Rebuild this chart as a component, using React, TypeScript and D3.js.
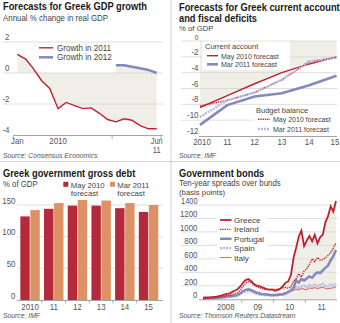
import React from 'react';
import * as d3 from 'd3';

const FONT = "'Liberation Sans', Arial, sans-serif";

const RED = '#c0202e';
const RED_THIN = '#d2464d';
const BLUE = '#8489bd';
const LAV = '#b6b9df';
const BAR_RED = '#b52a3a';
const BAR_ORANGE = '#dc9265';
const SHADE = '#efefe8';
const GRID = '#d6d6d6';
const AXIS = '#9a9a9a';
const SEP = '#c4c4c4';
const TXT = '#1a1a1a';
const SUB = '#444';
const TICK = '#555';

// ---------- Panel 1: GDP growth forecasts ----------
const gdpMonths = ['2010-01', '2010-02', '2010-03', '2010-04', '2010-05', '2010-06', '2010-07', '2010-08', '2010-09',
  '2010-10', '2010-11', '2010-12', '2011-01', '2011-02', '2011-03', '2011-04', '2011-05', '2011-06'];
const growth2011 = [1.2, 0.9, 0.3, -0.5, -1.0, -2.3, -1.9, -2.1, -2.3, -2.25, -2.6, -3.0, -3.15, -2.95, -3.05, -3.4, -3.6, -3.6];
const growth2012Months = ['2011-01', '2011-02', '2011-03', '2011-04', '2011-05', '2011-06'];
const growth2012 = [0.5, 0.5, 0.4, 0.3, 0.2, 0.0];
const gdpYTicks = [2, 0, -2, -4];
const gdpXLabels = [
  { month: '2010-01', lines: ['Jan'] },
  { month: '2010-06', lines: ['2010'] },
  { month: '2011-06', lines: ['Jun', '11'] },
];
const gdpXTicks = ['2010-01-01', '2011-01-01', '2011-07-01'];

// ---------- Panel 2: current account & budget balance ----------
const caYears = [2010, 2011, 2012, 2013, 2014, 2015];
const caYearLabels = ['2010', '11', '12', '13', '14', '15'];
const caMay2010 = [-8.4, -6.9, -5.4, -4.0, -2.9, -2.0];
const caMar2011 = [-10.6, -8.1, -7.0, -6.6, -5.6, -4.4];
const budgetMay2010 = [-8.2, -7.5, -6.5, -4.9, -2.6, -2.1];
const budgetMar2011 = [-9.6, -7.5, -6.5, -4.9, -2.6, -2.1];
const caYTicks = [0, -2, -4, -6, -8, -10, -12];

// ---------- Panel 3: gross debt ----------
const debtYears = ['2010', '11', '12', '13', '14', '15'];
const debtMay2010 = [132, 144, 149, 149, 145, 139];
const debtMar2011 = [142, 153, 158, 157, 153, 150];
const debtYTicks = [0, 50, 100, 150];

// ---------- Panel 4: bond spreads (monthly, from Apr 2007) ----------
const bondStartYear = 2007;
const bondStartMonth = 3; // April (0-based)
const greece = [25, 27, 29, 31, 35, 40, 48, 58, 70, 80, 88, 110, 130, 150, 190, 245, 285, 300, 272, 230, 208, 196, 180, 168,
  150, 145, 145, 125, 135, 155, 195, 245, 265, 360, 620, 760, 930, 1020, 790, 870, 940, 860, 960, 830, 920, 960, 1150,
  1230, 1380, 1300, 1460];
const ireland = [10, 12, 15, 18, 20, 25, 28, 35, 45, 55, 60, 70, 85, 100, 130, 190, 240, 265, 250, 215, 190, 175, 160, 150,
  145, 140, 150, 145, 150, 160, 170, 175, 165, 180, 270, 300, 380, 330, 420, 450, 520, 600, 560, 620, 580, 590, 620,
  650, 690, 760, 840];
const portugal = [12, 14, 16, 18, 20, 22, 25, 30, 35, 40, 45, 50, 55, 65, 90, 120, 140, 150, 140, 120, 100, 90, 80, 75,
  70, 65, 60, 62, 65, 70, 75, 90, 110, 130, 170, 280, 250, 300, 280, 310, 340, 320, 370, 400, 390, 430, 470,
  500, 580, 640, 730];
const spain = [8, 9, 10, 12, 14, 16, 18, 22, 28, 32, 36, 40, 45, 55, 75, 100, 115, 120, 110, 95, 80, 70, 65, 60,
  60, 58, 55, 58, 60, 65, 70, 80, 100, 120, 160, 180, 170, 190, 200, 180, 210, 190, 220, 200, 210, 230, 200,
  190, 220, 210, 230];
const italy = [15, 17, 20, 22, 25, 28, 32, 36, 40, 45, 50, 55, 60, 70, 90, 120, 135, 140, 130, 115, 100, 90, 85, 80,
  78, 75, 72, 75, 78, 80, 85, 95, 110, 120, 130, 150, 140, 160, 150, 140, 170, 160, 175, 160, 170, 180, 160,
  155, 165, 170, 185];
const bondYTicks = [0, 200, 400, 600, 800, 1000, 1200, 1400];
const bondXLabels = [
  { date: '2008-01-01', label: '2008' },
  { date: '2009-01-01', label: '09' },
  { date: '2010-01-01', label: '10' },
  { date: '2011-01-01', label: '11' },
];
const bondXTicks = ['2008-07-01', '2009-07-01', '2010-07-01'];
const bondShadeFrom = 30; // index of Oct 2009

const parseMonth = (s: string) => {
  const [y, m] = s.split('-').map(Number);
  return new Date(y, m - 1, 15);
};
const parseDay = (s: string) => {
  const [y, m, d] = s.split('-').map(Number);
  return new Date(y, m - 1, d);
};

type Pt = [number, number];

// condensed text: Arial-metric font squeezed horizontally
function T({ x, y, size, children, anchor = 'start', weight = 'normal', italic = false, fill = SUB, sq = 0.93 }:
  { x: number; y: number; size: number; children: React.ReactNode; anchor?: string; weight?: string; italic?: boolean; fill?: string; sq?: number }) {
  return (
    <text transform={`translate(${x},${y}) scale(${sq},1)`} x={0} y={0} textAnchor={anchor as any}
      fontFamily={FONT} fontSize={size} fontWeight={weight} fontStyle={italic ? 'italic' : 'normal'} fill={fill}>
      {children}
    </text>
  );
}

const Title = ({ x, y, text }: { x: number; y: number; text: string }) => (
  <T x={x} y={y} size={10.4} weight="bold" fill={TXT} sq={0.895}>{text}</T>
);
const Sub = ({ x, y, text, size = 8.8, sq = 0.9 }: { x: number; y: number; text: string; size?: number; sq?: number }) => (
  <T x={x} y={y} size={size} fill={SUB} sq={sq}>{text}</T>
);
const Source = ({ x, y, text }: { x: number; y: number; text: string }) => (
  <T x={x} y={y} size={6.8} italic fill={TICK} sq={1}>{text}</T>
);
const Tick = ({ x, y, anchor, children, size = 8.8 }: { x: number; y: number; anchor: string; children: React.ReactNode; size?: number }) => (
  <T x={x} y={y} anchor={anchor} size={size} fill={TICK} sq={0.9}>{children}</T>
);
const Leg = ({ x, y, children, size = 8.6, sq = 0.94 }: { x: number; y: number; children: React.ReactNode; size?: number; sq?: number }) => (
  <T x={x} y={y} size={size} fill={SUB} sq={sq}>{children}</T>
);

function GdpPanel() {
  const x = d3.scaleTime().domain([parseMonth('2010-01'), parseMonth('2011-06')]).range([17.3, 156.7]);
  const y = d3.scaleLinear().domain([-4, 2]).range([135, 42]);
  const d2011: [Date, number][] = gdpMonths.map((m, i) => [parseMonth(m), growth2011[i]]);
  const d2012: [Date, number][] = growth2012Months.map((m, i) => [parseMonth(m), growth2012[i]]);
  const line = d3.line<[Date, number]>().x(d => x(d[0])).y(d => y(d[1]));
  const area = d3.area<[Date, number]>().x(d => x(d[0])).y0(y(0)).y1(d => y(d[1]));
  const tickDates = gdpXTicks.map(parseDay);
  const x0 = x(tickDates[0]);
  return (
    <g>
      <Title x={3} y={10} text="Forecasts for Greek GDP growth" />
      <Sub x={3} y={21} text="Annual % change in real GDP" />
      <path d={area(d2011) || ''} fill={SHADE} />
      <path d={area(d2012) || ''} fill={SHADE} />
      {gdpYTicks.map(t => (
        <g key={t}>
          {t > -4 && <line x1={3} x2={163} y1={y(t)} y2={y(t)} stroke={GRID} strokeWidth={0.8} />}
          <Tick x={9.5} y={y(t) - 2} anchor="end">{t}</Tick>
        </g>
      ))}
      <line x1={x0} x2={163} y1={y(-4) + 0.5} y2={y(-4) + 0.5} stroke={AXIS} strokeWidth={0.9} />
      {tickDates.map((d, i) => (
        <line key={i} x1={x(d)} x2={x(d)} y1={y(-4) + 0.5} y2={y(-4) + 4} stroke={AXIS} strokeWidth={0.8} />
      ))}
      {gdpXLabels.map((l, i) => (
        <g key={i}>
          {l.lines.map((s, j) => (
            <Tick key={j} x={x(parseMonth(l.month))} y={144 + j * 8.6} anchor="middle" size={l.lines.length > 1 ? 8.2 : 8.8}>{s}</Tick>
          ))}
        </g>
      ))}
      <path d={line(d2012) || ''} fill="none" stroke={BLUE} strokeWidth={2.5} />
      <path d={line(d2011) || ''} fill="none" stroke={RED} strokeWidth={1.4} />
      <line x1={39} x2={53} y1={47.8} y2={47.8} stroke={RED} strokeWidth={1.4} />
      <Leg x={57} y={50.8}>Growth in 2011</Leg>
      <line x1={39} x2={53} y1={57.3} y2={57.3} stroke={BLUE} strokeWidth={2.5} />
      <Leg x={57} y={60.3}>Growth in 2012</Leg>
      <Source x={3} y={157.5} text="Source: Consensus Economics" />
    </g>
  );
}

function DeficitPanel() {
  const x = d3.scaleLinear().domain([2010, 2015]).range([200, 336.5]);
  const y = d3.scaleLinear().domain([-12, 0]).range([136, 41]);
  const mk = (vals: number[]): Pt[] => caYears.map((yr, i) => [yr, vals[i]]);
  const line = d3.line<Pt>().x(d => x(d[0])).y(d => y(d[1]));
  const area = d3.area<Pt>().x(d => x(d[0])).y0(y(0)).y1(d => y(d[1]));
  const lsz = 7.9;
  const lsq = 0.89;
  return (
    <g>
      <Title x={179} y={10.5} text="Forecasts for Greek current account" />
      <Title x={179} y={22.3} text="and fiscal deficits" />
      <Sub x={179} y={30.6} text="% of GDP" size={8} sq={0.97} />
      <path d={area(mk(caMay2010)) || ''} fill={SHADE} />
      {caYTicks.map(t => (
        <g key={t}>
          {t > -12 && <line x1={181} x2={337} y1={y(t)} y2={y(t)} stroke={GRID} strokeWidth={0.8} />}
          <Tick x={198.5} y={y(t) - (t === 0 ? 1.3 : 2)} anchor="end" size={t === 0 ? 8 : 8.8}>{t}</Tick>
        </g>
      ))}
      <line x1={199} x2={337} y1={y(-12) + 0.5} y2={y(-12) + 0.5} stroke={AXIS} strokeWidth={0.9} />
      {caYears.map((yr, i) => (
        <Tick key={yr} x={x(yr) + (i === 0 ? 2 : i === caYears.length - 1 ? -1.5 : 0)} y={144.5} anchor="middle">{caYearLabels[i]}</Tick>
      ))}
      <rect x={202} y={41.5} width={88} height={28.5} fill="#fff" />
      <rect x={254} y={106} width={83} height={28} fill="#fff" />
      <path d={line(mk(caMay2010)) || ''} fill="none" stroke={RED} strokeWidth={1.4} />
      <path d={line(mk(caMar2011)) || ''} fill="none" stroke={BLUE} strokeWidth={2.6} />
      <path d={line(mk(budgetMay2010)) || ''} fill="none" stroke={RED} strokeWidth={1.4} strokeDasharray="1.3 1" />
      <path d={line(mk(budgetMar2011)) || ''} fill="none" stroke={LAV} strokeWidth={2.4} strokeDasharray="2 1" />
      <Leg x={205} y={48.5} size={lsz} sq={0.95}>Current account</Leg>
      <line x1={207} x2={218} y1={55.7} y2={55.7} stroke={RED} strokeWidth={1.4} />
      <Leg x={221} y={58.6} size={lsz} sq={lsq}>May 2010 forecast</Leg>
      <line x1={207} x2={218} y1={64.3} y2={64.3} stroke={BLUE} strokeWidth={2.6} />
      <Leg x={221} y={67.2} size={lsz} sq={lsq}>Mar 2011 forecast</Leg>
      <Leg x={256} y={113} size={lsz} sq={0.95}>Budget balance</Leg>
      <line x1={258} x2={270} y1={119.3} y2={119.3} stroke={RED} strokeWidth={1.4} strokeDasharray="1.3 1" />
      <Leg x={273} y={122.2} size={lsz} sq={lsq}>May 2010 forecast</Leg>
      <line x1={258} x2={270} y1={129} y2={129} stroke={LAV} strokeWidth={2.4} strokeDasharray="2 1" />
      <Leg x={273} y={131.9} size={lsz} sq={lsq}>Mar 2011 forecast</Leg>
      <Source x={179} y={157.5} text="Source: IMF" />
    </g>
  );
}

function DebtPanel() {
  const x = d3.scaleBand<string>().domain(debtYears).range([18.2, 160.4]).paddingInner(0.18).paddingOuter(0.09);
  const inner = d3.scaleBand<string>().domain(['may', 'mar']).range([0, x.bandwidth()]).paddingInner(0.06);
  const y = d3.scaleLinear().domain([0, 150]).range([300, 205]);
  const gap = x.step() - x.bandwidth();
  return (
    <g>
      <Title x={3} y={176.5} text="Greek government gross debt" />
      <Sub x={3} y={186.5} text="% of GDP" size={8.2} sq={0.95} />
      <rect x={63.3} y={181.8} width={5} height={5} fill={BAR_RED} />
      <Leg x={70.7} y={187.5} size={7.9} sq={0.98}>May 2010</Leg>
      <Leg x={70.7} y={196} size={7.9} sq={0.98}>forecast</Leg>
      <rect x={110} y={181.8} width={5} height={5} fill={BAR_ORANGE} />
      <Leg x={117.3} y={187.5} size={7.9} sq={0.98}>Mar 2011</Leg>
      <Leg x={117.3} y={196} size={7.9} sq={0.98}>forecast</Leg>
      {debtYTicks.map(t => (
        <g key={t}>
          {t > 0 && <line x1={17} x2={163} y1={y(t)} y2={y(t)} stroke={GRID} strokeWidth={0.8} />}
          <Tick x={15.5} y={y(t) - 1.5} anchor="end">{t}</Tick>
        </g>
      ))}
      {debtYears.map((yr, i) => (
        <g key={yr}>
          <rect x={(x(yr) || 0) + (inner('may') || 0)} y={y(debtMay2010[i])} width={inner.bandwidth()} height={y(0) - y(debtMay2010[i])} fill={BAR_RED} />
          <rect x={(x(yr) || 0) + (inner('mar') || 0)} y={y(debtMar2011[i])} width={inner.bandwidth()} height={y(0) - y(debtMar2011[i])} fill={BAR_ORANGE} />
          <Tick x={(x(yr) || 0) + x.bandwidth() / 2} y={309.5} anchor="middle">{yr}</Tick>
          {i > 0 && <line x1={(x(yr) || 0) - gap / 2} x2={(x(yr) || 0) - gap / 2} y1={300} y2={303.5} stroke={AXIS} strokeWidth={0.8} />}
        </g>
      ))}
      <line x1={17} x2={163} y1={y(0) + 0.5} y2={y(0) + 0.5} stroke={AXIS} strokeWidth={0.9} />
      <Source x={3} y={317.5} text="Source: IMF" />
    </g>
  );
}

function BondPanel() {
  const dates = greece.map((_, i) => new Date(bondStartYear, bondStartMonth + i, 15));
  const x = d3.scaleTime().domain([dates[0], dates[dates.length - 1]]).range([203, 336]);
  const y = d3.scaleLinear().domain([0, 1400]).range([299.3, 205]);
  const mk = (vals: number[]): [Date, number][] => vals.map((v, i) => [dates[i], v]);
  const line = d3.line<[Date, number]>().x(d => x(d[0])).y(d => y(d[1]));
  const area = d3.area<[Date, number]>().x(d => x(d[0])).y0(y(0)).y1(d => y(d[1]));
  const legend = [
    { label: 'Greece', color: RED, w: 1.8, dash: undefined },
    { label: 'Ireland', color: RED, w: 1.4, dash: '1.3 1' },
    { label: 'Portugal', color: BLUE, w: 2.5, dash: undefined },
    { label: 'Spain', color: LAV, w: 2.3, dash: '2 1' },
    { label: 'Italy', color: RED_THIN, w: 0.9, dash: undefined },
  ];
  return (
    <g>
      <Title x={179} y={176.5} text="Government bonds" />
      <Sub x={179} y={186.3} text="Ten-year spreads over bunds" size={8.2} sq={0.96} />
      <Sub x={179} y={194.6} text="(basis points)" size={8} sq={0.97} />
      <path d={area(mk(greece).slice(bondShadeFrom)) || ''} fill={SHADE} />
      {bondYTicks.map(t => (
        <g key={t}>
          {t > 0 && <line x1={181} x2={337} y1={y(t)} y2={y(t)} stroke={GRID} strokeWidth={0.8} />}
          <Tick x={197.5} y={y(t) - (t === 1400 ? 0.6 : 1.2)} anchor="end" size={t === 1400 ? 8.2 : 8.8}>{t}</Tick>
        </g>
      ))}
      <line x1={199} x2={337} y1={y(0) + 0.5} y2={y(0) + 0.5} stroke={AXIS} strokeWidth={0.9} />
      {bondXTicks.map(d => (
        <line key={d} x1={x(parseDay(d))} x2={x(parseDay(d))} y1={y(0)} y2={y(0) + 3.5} stroke={AXIS} strokeWidth={0.8} />
      ))}
      {bondXLabels.map(l => (
        <Tick key={l.label} x={x(parseDay(l.date))} y={309.5} anchor="middle">{l.label}</Tick>
      ))}
      <rect x={217} y={212} width={50} height={50} fill="#fff" />
      <path d={line(mk(italy)) || ''} fill="none" stroke={RED_THIN} strokeWidth={0.9} />
      <path d={line(mk(spain)) || ''} fill="none" stroke={LAV} strokeWidth={2.3} strokeDasharray="2 1" />
      <path d={line(mk(portugal)) || ''} fill="none" stroke={BLUE} strokeWidth={2.5} />
      <path d={line(mk(ireland)) || ''} fill="none" stroke={RED} strokeWidth={1.4} strokeDasharray="1.3 1" />
      <path d={line(mk(greece)) || ''} fill="none" stroke={RED} strokeWidth={1.8} />
      {legend.map((l, i) => (
        <g key={l.label}>
          <line x1={220} x2={231.5} y1={220 + i * 9.4} y2={220 + i * 9.4} stroke={l.color} strokeWidth={l.w} strokeDasharray={l.dash} />
          <Leg x={234} y={222.9 + i * 9.4} size={8.1} sq={1}>{l.label}</Leg>
        </g>
      ))}
      <Source x={179} y={317.5} text="Source: Thomson Reuters Datastream" />
    </g>
  );
}

export default function App() {
  return (
    <svg width={340} height={323} viewBox="0 0 340 323" style={{ position: 'absolute', left: 0, top: 0, background: '#fff' }}>
      <rect x={0} y={0} width={340} height={323} fill="#fff" />
      <line x1={171} x2={171} y1={0} y2={323} stroke={SEP} strokeWidth={0.8} />
      <line x1={0} x2={340} y1={161.5} y2={161.5} stroke={SEP} strokeWidth={0.8} />
      <GdpPanel />
      <DeficitPanel />
      <DebtPanel />
      <BondPanel />
    </svg>
  );
}
